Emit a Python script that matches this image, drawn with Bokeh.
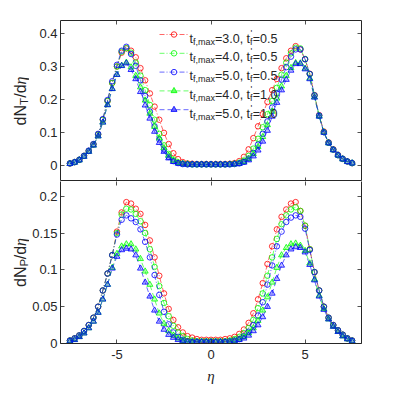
import math
from bokeh.plotting import figure
from bokeh.models import Range1d, LinearAxis, FixedTicker, CustomJSTickFormatter, Label
from bokeh.layouts import column, row
from bokeh.embed import file_html
from bokeh.resources import INLINE

# ---------------- data ----------------
eta = [-7.5, -7.25, -7.0, -6.75, -6.5, -6.25, -6.0, -5.75, -5.5, -5.25, -5.0, -4.75, -4.5,
       -4.25, -4.0, -3.75, -3.5, -3.25, -3.0, -2.75, -2.5, -2.25, -2.0, -1.75, -1.5, -1.25,
       -1.0, -0.75, -0.5, -0.25, 0.0, 0.25, 0.5, 0.75, 1.0, 1.25, 1.5, 1.75, 2.0, 2.25, 2.5,
       2.75, 3.0, 3.25, 3.5, 3.75, 4.0, 4.25, 4.5, 4.75, 5.0, 5.25, 5.5, 5.75, 6.0, 6.25, 6.5,
       6.75, 7.0, 7.25, 7.5]

# dN_T/deta
nt_tf3_05 = [0.005, 0.009, 0.016, 0.028, 0.043, 0.063, 0.093, 0.138, 0.195, 0.250, 0.300, 0.342, 0.355,
             0.348, 0.328, 0.295, 0.258, 0.218, 0.178, 0.138, 0.098, 0.064, 0.036, 0.018, 0.009, 0.005, 0.004, 0.003, 0.003, 0.003, 0.003,
             0.003, 0.003, 0.003, 0.004, 0.006, 0.012, 0.025, 0.048, 0.082, 0.118, 0.155, 0.192, 0.228, 0.262, 0.295, 0.325, 0.348, 0.362,
             0.352, 0.322, 0.278, 0.213, 0.152, 0.102, 0.069, 0.048, 0.031, 0.019, 0.011, 0.006]
nt_tf4_05 = [0.005, 0.009, 0.016, 0.028, 0.043, 0.063, 0.093, 0.138, 0.195, 0.250, 0.300, 0.345, 0.356,
             0.342, 0.312, 0.272, 0.228, 0.183, 0.138, 0.095, 0.060, 0.034, 0.017, 0.008, 0.004, 0.003, 0.002, 0.002, 0.002, 0.002, 0.002,
             0.002, 0.002, 0.002, 0.003, 0.004, 0.007, 0.014, 0.028, 0.050, 0.080, 0.115, 0.155, 0.195, 0.235, 0.275, 0.312, 0.340, 0.357,
             0.355, 0.323, 0.277, 0.212, 0.150, 0.100, 0.068, 0.047, 0.030, 0.019, 0.011, 0.006]
nt_tf5_05 = [0.005, 0.009, 0.016, 0.028, 0.044, 0.064, 0.095, 0.140, 0.198, 0.255, 0.305, 0.348, 0.360,
             0.338, 0.302, 0.258, 0.210, 0.163, 0.118, 0.078, 0.047, 0.025, 0.012, 0.006, 0.003, 0.002, 0.002, 0.002, 0.002, 0.002, 0.002,
             0.002, 0.002, 0.002, 0.002, 0.003, 0.005, 0.010, 0.020, 0.037, 0.062, 0.095, 0.133, 0.175, 0.218, 0.260, 0.298, 0.330, 0.352,
             0.352, 0.322, 0.277, 0.212, 0.151, 0.100, 0.068, 0.047, 0.030, 0.019, 0.011, 0.006]
nt_tf4_10 = [0.004, 0.008, 0.015, 0.026, 0.041, 0.060, 0.088, 0.130, 0.183, 0.232, 0.275, 0.303, 0.312,
             0.298, 0.272, 0.237, 0.197, 0.157, 0.117, 0.082, 0.052, 0.029, 0.014, 0.007, 0.004, 0.003, 0.002, 0.002, 0.002, 0.002, 0.002,
             0.002, 0.002, 0.002, 0.002, 0.003, 0.005, 0.010, 0.019, 0.034, 0.056, 0.086, 0.122, 0.163, 0.203, 0.240, 0.272, 0.296, 0.311,
             0.310, 0.294, 0.264, 0.207, 0.149, 0.100, 0.067, 0.046, 0.030, 0.018, 0.010, 0.006]
nt_tf5_10 = [0.004, 0.008, 0.015, 0.026, 0.041, 0.060, 0.088, 0.130, 0.183, 0.232, 0.275, 0.302, 0.310,
             0.290, 0.262, 0.223, 0.182, 0.142, 0.102, 0.068, 0.041, 0.021, 0.010, 0.005, 0.003, 0.002, 0.002, 0.002, 0.002, 0.002, 0.002,
             0.002, 0.002, 0.002, 0.002, 0.003, 0.004, 0.008, 0.015, 0.027, 0.045, 0.072, 0.105, 0.148, 0.190, 0.228, 0.260, 0.288, 0.308,
             0.308, 0.292, 0.262, 0.206, 0.148, 0.099, 0.067, 0.046, 0.030, 0.018, 0.010, 0.006]

# dN_P/deta
np_tf3_05 = [0.004, 0.007, 0.011, 0.017, 0.025, 0.035, 0.050, 0.072, 0.095, 0.120, 0.152, 0.178,
             0.192, 0.190, 0.183, 0.176, 0.161, 0.140, 0.117, 0.092, 0.068, 0.047, 0.032, 0.022, 0.015, 0.010, 0.008, 0.006, 0.005, 0.005, 0.005,
             0.005, 0.005, 0.006, 0.007, 0.009, 0.013, 0.019, 0.028, 0.041, 0.060, 0.082, 0.108, 0.132, 0.155, 0.172, 0.182, 0.190,
             0.192, 0.180, 0.160, 0.128, 0.097, 0.072, 0.050, 0.035, 0.025, 0.018, 0.012, 0.007, 0.004]
np_tf4_05 = [0.004, 0.007, 0.011, 0.017, 0.025, 0.035, 0.050, 0.072, 0.095, 0.120, 0.150, 0.175,
             0.183, 0.182, 0.176, 0.166, 0.150, 0.128, 0.104, 0.078, 0.055, 0.037, 0.024, 0.015, 0.010, 0.006, 0.004, 0.003, 0.003, 0.003, 0.003,
             0.003, 0.003, 0.003, 0.004, 0.006, 0.009, 0.014, 0.021, 0.032, 0.048, 0.068, 0.092, 0.117, 0.142, 0.162, 0.174, 0.182,
             0.185, 0.180, 0.160, 0.128, 0.097, 0.072, 0.050, 0.035, 0.025, 0.018, 0.012, 0.007, 0.004]
np_tf5_05 = [0.004, 0.007, 0.011, 0.017, 0.025, 0.035, 0.050, 0.072, 0.095, 0.120, 0.148, 0.168,
             0.174, 0.170, 0.165, 0.155, 0.138, 0.117, 0.093, 0.066, 0.043, 0.026, 0.015, 0.009, 0.005, 0.003, 0.002, 0.002, 0.002, 0.002, 0.002,
             0.002, 0.002, 0.002, 0.003, 0.004, 0.006, 0.010, 0.016, 0.025, 0.038, 0.056, 0.080, 0.106, 0.132, 0.152, 0.165, 0.171,
             0.174, 0.172, 0.156, 0.127, 0.097, 0.072, 0.050, 0.035, 0.025, 0.018, 0.012, 0.007, 0.004]
np_tf4_10 = [0.003, 0.005, 0.009, 0.014, 0.021, 0.030, 0.042, 0.060, 0.080, 0.103, 0.122, 0.132,
             0.135, 0.135, 0.128, 0.115, 0.098, 0.080, 0.060, 0.041, 0.027, 0.017, 0.011, 0.007, 0.004, 0.003, 0.002, 0.002, 0.002, 0.002, 0.002,
             0.002, 0.002, 0.002, 0.003, 0.004, 0.006, 0.009, 0.014, 0.021, 0.031, 0.045, 0.063, 0.083, 0.103, 0.120, 0.130, 0.135,
             0.136, 0.133, 0.126, 0.109, 0.087, 0.065, 0.047, 0.033, 0.023, 0.016, 0.010, 0.006, 0.003]
np_tf5_10 = [0.003, 0.005, 0.009, 0.014, 0.021, 0.030, 0.042, 0.060, 0.080, 0.102, 0.118, 0.127,
             0.129, 0.128, 0.120, 0.102, 0.083, 0.064, 0.045, 0.030, 0.019, 0.012, 0.008, 0.005, 0.003, 0.002, 0.002, 0.002, 0.002, 0.002, 0.002,
             0.002, 0.002, 0.002, 0.002, 0.003, 0.005, 0.007, 0.011, 0.017, 0.025, 0.036, 0.050, 0.068, 0.088, 0.106, 0.120, 0.128,
             0.131, 0.130, 0.124, 0.107, 0.086, 0.064, 0.046, 0.033, 0.023, 0.016, 0.010, 0.006, 0.003]

tf_max = ["3.0", "4.0", "5.0", "4.0", "5.0"]
tf_prime = ["0.5", "0.5", "0.5", "1.0", "1.0"]

x_ticks = [-5, 0, 5]
top_ticks = [0, 0.1, 0.2, 0.3, 0.4]
bot_ticks = [0, 0.05, 0.1, 0.15, 0.2]
x_lim = (-8, 8)
top_lim = (-0.05, 0.44)
bot_lim = (0, 0.22)

# ---------------- styling ----------------
DARK = "#262626"
colors = ["#ff0000", "#00ff00", "#0000ff", "#00ff00", "#0000ff"]
markers = ["circle", "circle", "circle", "triangle", "triangle"]
dashes = ["5 2 1 2", "5 2 1 2", "5 2 1 2", "5 3", "5 3"]
FONT = "Liberation Sans"
FW, FH_T, FH_B = 301, 161, 162
LABW = 29          # width of the strip holding the rotated y labels
LB, RB, TB = 29, 20, 20

label_fmt = CustomJSTickFormatter(code="return String(parseFloat(tick.toFixed(3)));")


def style_axis(ax, ticks, show):
    ax.ticker = FixedTicker(ticks=ticks, minor_ticks=[])
    ax.major_tick_in = 4
    ax.major_tick_out = 0
    ax.major_tick_line_color = DARK
    ax.major_tick_line_width = 0.8
    ax.minor_tick_line_color = None
    if show:
        ax.formatter = label_fmt
        ax.major_label_text_font = FONT
        ax.major_label_text_font_size = "13px"
        ax.major_label_text_color = DARK
        ax.major_label_standoff = 3
    else:
        ax.formatter = CustomJSTickFormatter(code="return '';")
        ax.major_label_text_font_size = "0px"
        ax.major_label_standoff = 0


def make_fig(ylim, fh, top_border, bottom_border):
    p = figure(frame_width=FW, frame_height=fh, x_range=Range1d(*x_lim), y_range=Range1d(*ylim),
               output_backend="svg", toolbar_location=None, x_axis_location=None,
               min_border_left=LB, min_border_right=RB, min_border_top=top_border,
               min_border_bottom=bottom_border, background_fill_color="white",
               border_fill_color="white")
    p.xgrid.visible = False
    p.ygrid.visible = False
    return p


# ---------------- top panel ----------------
pt = make_fig(top_lim, FH_T, TB, 0)
pt.outline_line_color = DARK
pt.outline_line_width = 1
style_axis(pt.yaxis[0], top_ticks, True)
pt.yaxis[0].axis_line_color = None
for loc in ("above", "below"):
    ax = LinearAxis(axis_line_color=None)
    style_axis(ax, x_ticks, False)
    pt.add_layout(ax, loc)
axr = LinearAxis(axis_line_color=None)
style_axis(axr, top_ticks, False)
pt.add_layout(axr, "right")

# ---------------- bottom panel ----------------
pb = make_fig(bot_lim, FH_B, 0, 46)
pb.outline_line_color = None
style_axis(pb.yaxis[0], bot_ticks, True)
pb.yaxis[0].axis_line_color = DARK
axb = LinearAxis(axis_line_color=DARK, axis_label="η", axis_label_text_font="Liberation Serif",
                 axis_label_text_font_style="italic", axis_label_text_font_size="15px",
                 axis_label_text_color=DARK, axis_label_standoff=6)
style_axis(axb, x_ticks, True)
axb.major_label_standoff = 6
pb.add_layout(axb, "below")
axa = LinearAxis(axis_line_color=None)
style_axis(axa, x_ticks, False)
pb.add_layout(axa, "above")
axr2 = LinearAxis(axis_line_color=DARK)
style_axis(axr2, bot_ticks, False)
pb.add_layout(axr2, "right")


def draw(p, series):
    for ys, c, m, d in zip(series, colors, markers, dashes):
        p.line(eta, ys, line_color=c, line_width=0.6, line_dash=d)
        if m == "circle":
            p.scatter(eta, ys, marker="circle", size=5.5, line_color=c, line_width=0.8,
                      fill_color=None)
        else:
            p.scatter(eta, ys, marker="triangle", size=6, line_color=c, line_width=0.8,
                      fill_color=c, fill_alpha=0.25)


draw(pt, [nt_tf3_05, nt_tf4_05, nt_tf5_05, nt_tf4_10, nt_tf5_10])
draw(pb, [np_tf3_05, np_tf4_05, np_tf5_05, np_tf4_10, np_tf5_10])

# ---------------- y labels: a narrow strip left of the panels ----------------
pl = figure(frame_width=LABW, frame_height=FH_T + FH_B, x_range=Range1d(0, LABW),
            y_range=Range1d(0, FH_T + FH_B), output_backend="svg", toolbar_location=None,
            x_axis_location=None, y_axis_location=None, min_border_left=0, min_border_right=0,
            min_border_top=TB, min_border_bottom=0, outline_line_color=None,
            background_fill_color="white", border_fill_color="white")
pl.xgrid.visible = False
pl.ygrid.visible = False


def ylabel(ymid, sub):
    segs = [("dN", 16, 0, "normal", FONT, 20.4),
            (sub, 11.5, 4, "normal", FONT, 7.3),
            ("/d", 16, 0, "normal", FONT, 13.3),
            ("η", 16, 0, "italic", "Liberation Serif", 8.0)]
    total = sum(s[5] for s in segs)
    pos = -total / 2
    for text, fs, dx, style, font, w in segs:
        pl.add_layout(Label(x=19.5, y=ymid, x_offset=dx, y_offset=pos, text=text,
                            angle=math.pi / 2, text_align="left", text_baseline="alphabetic",
                            text_font_size=f"{fs}px", text_font=font, text_font_style=style,
                            text_color=DARK))
        pos += w


ylabel(FH_B + FH_T / 2, "T")
ylabel(FH_B / 2, "P")

# ---------------- legend (top panel) ----------------
kx = FW / (x_lim[1] - x_lim[0])
ky = FH_T / (top_lim[1] - top_lim[0])


def dx_(px):
    return x_lim[0] + px / kx


def dy_(px):
    return top_lim[1] - px / ky


MAIN, SUB = 12.5, 9
for i in range(5):
    rowpx = 14 + i * 18.8
    yv = dy_(rowpx)
    pt.line([dx_(99), dx_(128)], [yv, yv], line_color=colors[i], line_width=0.6, line_dash=dashes[i])
    if markers[i] == "circle":
        pt.scatter([dx_(113.5)], [yv], marker="circle", size=5.5, line_color=colors[i],
                   line_width=0.8, fill_color=None)
    else:
        pt.scatter([dx_(113.5)], [yv], marker="triangle", size=6, line_color=colors[i],
                   line_width=0.8, fill_color=colors[i], fill_alpha=0.6)
    segs = [("t", MAIN, -4, 3.5),
            ("f,max", SUB, -7, 22.0),
            ("=" + tf_max[i] + ", t", MAIN, -4, 35.1),
            ("'", SUB, 2, 0.0),
            ("f", SUB, -7, 2.6),
            ("=" + tf_prime[i], MAIN, -4, 24.7)]
    xo = 0.0
    for text, fs, yo, w in segs:
        pt.add_layout(Label(x=dx_(129), y=yv, x_offset=xo + (0.3 if text == "'" else 0), y_offset=yo,
                            text=text, text_font=FONT, text_font_size=f"{fs}px",
                            text_align="left", text_baseline="alphabetic", text_color=DARK))
        xo += w

layout = row(pl, column(pt, pb))
open("out.html", "w").write(file_html(layout, INLINE))
